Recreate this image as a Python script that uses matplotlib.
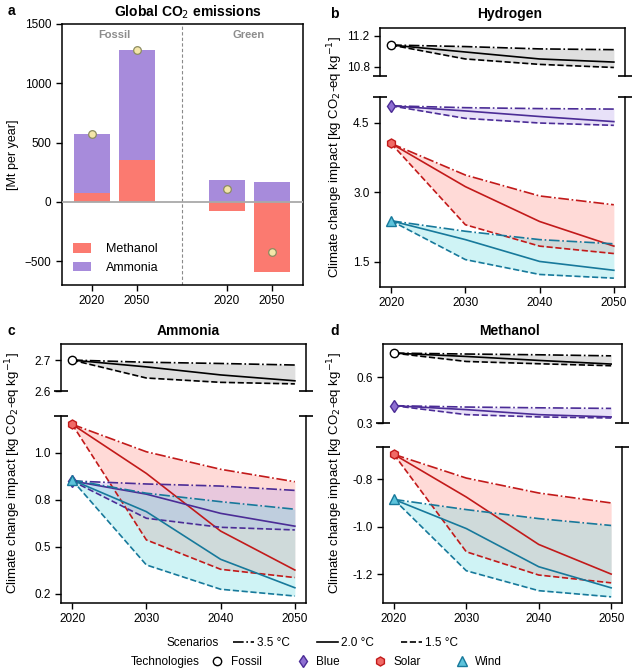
import matplotlib
matplotlib.use('Agg')
import matplotlib.pyplot as plt
from matplotlib.lines import Line2D
from matplotlib.patches import Patch
from matplotlib.ticker import FormatStrFormatter
import numpy as np

plt.rcParams['font.family'] = ['Liberation Sans', 'DejaVu Sans']
plt.rcParams['font.size'] = 9
plt.rcParams['axes.linewidth'] = 1.1
plt.rcParams['xtick.major.width'] = 1.0
plt.rcParams['ytick.major.width'] = 1.0
plt.rcParams['xtick.major.size'] = 4
plt.rcParams['ytick.major.size'] = 4
plt.rcParams['xtick.labelsize'] = 8.5
plt.rcParams['ytick.labelsize'] = 8.5

# ---------------- data ----------------
# Panel a
bar_groups = ['Fossil', 'Green']
bar_years = ['2020', '2050', '2020', '2050']
methanol_co2 = [75, 350, -75, -590]
ammonia_co2 = [500, 930, 185, 165]

years = [2020, 2030, 2040, 2050]
scenarios = ['3.5 °C', '2.0 °C', '1.5 °C']
technologies = ['Fossil', 'Blue', 'Solar', 'Wind']

# Hydrogen
h2_fossil_35 = [11.08, 11.06, 11.03, 11.02]
h2_fossil_20 = [11.08, 10.99, 10.90, 10.86]
h2_fossil_15 = [11.08, 10.90, 10.83, 10.79]
h2_blue_35 = [4.86, 4.82, 4.80, 4.79]
h2_blue_20 = [4.86, 4.75, 4.63, 4.52]
h2_blue_15 = [4.86, 4.59, 4.49, 4.44]
h2_solar_35 = [4.05, 3.37, 2.92, 2.73]
h2_solar_20 = [4.05, 3.12, 2.37, 1.84]
h2_solar_15 = [4.05, 2.30, 1.84, 1.68]
h2_wind_35 = [2.385, 2.16, 1.98, 1.89]
h2_wind_20 = [2.385, 1.98, 1.51, 1.32]
h2_wind_15 = [2.385, 1.55, 1.23, 1.15]

# Ammonia
nh3_fossil_35 = [2.700, 2.693, 2.689, 2.684]
nh3_fossil_20 = [2.700, 2.678, 2.652, 2.633]
nh3_fossil_15 = [2.700, 2.642, 2.628, 2.623]
nh3_blue_35 = [0.85, 0.834, 0.823, 0.80]
nh3_blue_20 = [0.85, 0.78, 0.678, 0.61]
nh3_blue_15 = [0.85, 0.652, 0.604, 0.59]
nh3_solar_35 = [1.151, 1.005, 0.912, 0.846]
nh3_solar_20 = [1.151, 0.89, 0.584, 0.377]
nh3_solar_15 = [1.151, 0.537, 0.381, 0.337]
nh3_wind_35 = [0.855, 0.785, 0.74, 0.70]
nh3_wind_20 = [0.855, 0.687, 0.434, 0.283]
nh3_wind_15 = [0.855, 0.404, 0.275, 0.239]

# Methanol
meoh_fossil_35 = [0.76, 0.754, 0.749, 0.742]
meoh_fossil_20 = [0.76, 0.738, 0.712, 0.688]
meoh_fossil_15 = [0.76, 0.705, 0.690, 0.677]
meoh_blue_35 = [0.414, 0.405, 0.400, 0.396]
meoh_blue_20 = [0.414, 0.388, 0.355, 0.340]
meoh_blue_15 = [0.414, 0.355, 0.340, 0.333]
meoh_solar_35 = [-0.695, -0.795, -0.858, -0.90]
meoh_solar_20 = [-0.695, -0.875, -1.075, -1.20]
meoh_solar_15 = [-0.695, -1.106, -1.204, -1.237]
meoh_wind_35 = [-0.885, -0.928, -0.966, -0.995]
meoh_wind_20 = [-0.885, -1.008, -1.169, -1.258]
meoh_wind_15 = [-0.885, -1.186, -1.270, -1.296]

# ---------------- styles ----------------
methanol_color = '#FB7A70'
ammonia_color = '#A78BDB'
styles = {
    'Fossil': dict(line='black', fill='#9c9c9c', mface='white', medge='black', marker='o', ms=6),
    'Blue': dict(line='#4B2C96', fill='#B9A4EA', mface='#8E6FD2', medge='#4B2C96', marker='d', ms=6),
    'Solar': dict(line='#C21A1A', fill='#FF8D83', mface='#F06A66', medge='#C21A1A', marker='h', ms=6.5),
    'Wind': dict(line='#17799B', fill='#6ADCE2', mface='#5CC3DB', medge='#17799B', marker='^', ms=6.5),
}
ls_map = {'3.5 °C': '-.', '2.0 °C': '-', '1.5 °C': '--'}

W, H = 634, 671
fig = plt.figure(figsize=(W / 100, H / 100), dpi=100)


def rect(l, t, r, b):
    return [l / W, 1 - b / H, (r - l) / W, (b - t) / H]


# ---------------- panel a ----------------
ax = fig.add_axes(rect(62, 24, 303, 285))
xpos = np.array([0, 1, 3, 4])
meth = np.array(methanol_co2)
amm = np.array(ammonia_co2)
ax.bar(xpos, meth, width=0.8, color=methanol_color, label='Methanol', zorder=2)
ax.bar(xpos, amm, width=0.8, bottom=np.maximum(meth, 0), color=ammonia_color,
       label='Ammonia', zorder=2)
ax.axhline(0, color='#a9a9a9', lw=1.3, zorder=3)
ax.axvline(2, color='#8a8a8a', lw=0.8, ls=(0, (3, 2)), zorder=1)
ax.plot(xpos, meth + amm, 'o', ms=5.5, mfc='#F4E6A9', mec='#8C8C60', mew=0.9, zorder=4)
ax.set_xlim(-0.66, 4.7)
ax.set_ylim(-700, 1500)
ax.set_yticks([-500, 0, 500, 1000, 1500])
ax.set_xticks(xpos)
ax.set_xticklabels(bar_years)
ax.text(0.5, 1405, bar_groups[0], ha='center', va='center', color='#8c8c8c',
        fontweight='bold', fontsize=8)
ax.text(3.5, 1405, bar_groups[1], ha='center', va='center', color='#8c8c8c',
        fontweight='bold', fontsize=8)
ax.set_ylabel('[Mt per year]', fontsize=9, labelpad=4)
ax.legend(loc='lower left', frameon=False, fontsize=9, handlelength=1.45,
          handleheight=0.8, handletextpad=1.2, labelspacing=0.5)
fig.text(188 / W, 1 - 12 / H, 'Global CO$_2$ emissions', ha='center', va='center',
         fontsize=10, fontweight='bold')
fig.text(8 / W, 1 - 11 / H, 'a', ha='left', va='center', fontsize=10, fontweight='bold')


# ---------------- line panels ----------------
def draw_tech(axx, tech, s35, s20, s15):
    st = styles[tech]
    axx.fill_between(years, s35, s15, color=st['fill'], alpha=0.32, lw=0, zorder=1)
    for sc, vals in zip(scenarios, [s35, s20, s15]):
        axx.plot(years, vals, color=st['line'], ls=ls_map[sc], lw=1.2, zorder=3)
    axx.plot(years[0], s20[0], st['marker'], ms=st['ms'], mfc=st['mface'],
             mec=st['medge'], mew=1.0, zorder=5, clip_on=False)


def broken_pair(top_rect, bot_rect):
    at = fig.add_axes(rect(*top_rect))
    ab = fig.add_axes(rect(*bot_rect))
    at.spines['bottom'].set_visible(False)
    ab.spines['top'].set_visible(False)
    at.tick_params(bottom=False, labelbottom=False)
    for a in (at, ab):
        a.set_xlim(2018.5, 2051.5)
    ab.set_xticks(years)
    at.plot([0, 1], [0, 0], transform=at.transAxes, marker='_', ms=10, mew=1.2,
            color='k', ls='none', clip_on=False)
    ab.plot([0, 1], [1, 1], transform=ab.transAxes, marker='_', ms=10, mew=1.2,
            color='k', ls='none', clip_on=False)
    return at, ab


ylabel = 'Climate change impact [kg CO$_2$-eq kg$^{-1}$]'

# b Hydrogen
bt, bb = broken_pair((380, 28, 625, 76), (380, 97, 625, 287))
draw_tech(bt, 'Fossil', h2_fossil_35, h2_fossil_20, h2_fossil_15)
draw_tech(bb, 'Blue', h2_blue_35, h2_blue_20, h2_blue_15)
draw_tech(bb, 'Solar', h2_solar_35, h2_solar_20, h2_solar_15)
draw_tech(bb, 'Wind', h2_wind_35, h2_wind_20, h2_wind_15)
bt.set_ylim(10.68, 11.3)
bt.set_yticks([10.8, 11.2])
bb.set_ylim(0.96, 5.05)
bb.set_yticks([1.5, 3.0, 4.5])
bt.yaxis.set_major_formatter(FormatStrFormatter('%.1f'))
bb.yaxis.set_major_formatter(FormatStrFormatter('%.1f'))
fig.text(335 / W, 1 - 157 / H, ylabel, rotation=90, ha='center', va='center', fontsize=9.5)
fig.text(510 / W, 1 - 14 / H, 'Hydrogen', ha='center', va='center', fontsize=10, fontweight='bold')
fig.text(330 / W, 1 - 14 / H, 'b', ha='left', va='center', fontsize=10, fontweight='bold')

# c Ammonia
ct, cb = broken_pair((61, 344, 306, 391), (61, 416, 306, 603))
draw_tech(ct, 'Fossil', nh3_fossil_35, nh3_fossil_20, nh3_fossil_15)
draw_tech(cb, 'Solar', nh3_solar_35, nh3_solar_20, nh3_solar_15)
draw_tech(cb, 'Blue', nh3_blue_35, nh3_blue_20, nh3_blue_15)
draw_tech(cb, 'Wind', nh3_wind_35, nh3_wind_20, nh3_wind_15)
ct.set_ylim(2.6, 2.752)
ct.set_yticks([2.6, 2.7])
cb.set_ylim(0.202, 1.195)
cb.set_yticks([0.25, 0.5, 0.75, 1.0])
ct.yaxis.set_major_formatter(FormatStrFormatter('%.1f'))
cb.yaxis.set_major_formatter(FormatStrFormatter('%.1f'))
fig.text(13 / W, 1 - 473 / H, ylabel, rotation=90, ha='center', va='center', fontsize=9.5)
fig.text(188 / W, 1 - 331 / H, 'Ammonia', ha='center', va='center', fontsize=10, fontweight='bold')
fig.text(8 / W, 1 - 331 / H, 'c', ha='left', va='center', fontsize=10, fontweight='bold')

# d Methanol
dt, db = broken_pair((383, 344, 622, 423), (383, 447, 622, 603))
draw_tech(dt, 'Fossil', meoh_fossil_35, meoh_fossil_20, meoh_fossil_15)
draw_tech(dt, 'Blue', meoh_blue_35, meoh_blue_20, meoh_blue_15)
draw_tech(db, 'Solar', meoh_solar_35, meoh_solar_20, meoh_solar_15)
draw_tech(db, 'Wind', meoh_wind_35, meoh_wind_20, meoh_wind_15)
dt.set_ylim(0.3, 0.82)
dt.set_yticks([0.3, 0.6])
db.set_ylim(-1.322, -0.664)
db.set_yticks([-1.2, -1.0, -0.8])
dt.yaxis.set_major_formatter(FormatStrFormatter('%.1f'))
db.yaxis.set_major_formatter(FormatStrFormatter('%.1f'))
fig.text(335 / W, 1 - 473 / H, ylabel, rotation=90, ha='center', va='center', fontsize=9.5)
fig.text(509 / W, 1 - 331 / H, 'Methanol', ha='center', va='center', fontsize=10, fontweight='bold')
fig.text(330 / W, 1 - 331 / H, 'd', ha='left', va='center', fontsize=10, fontweight='bold')

# ---------------- bottom legends ----------------
y1 = 1 - 642.7 / H
y2 = 1 - 661.7 / H
fig.text(219 / W, y1, 'Scenarios', ha='right', va='center', fontsize=8.5)
sc_handles = [Line2D([], [], color='black', ls=ls_map[s], lw=1.2) for s in scenarios]
fig.legend(sc_handles, scenarios, loc='center left', bbox_to_anchor=(233 / W, y1),
           ncol=3, frameon=False, fontsize=8.5, handlelength=1.75, handletextpad=0.25,
           columnspacing=2.35, borderpad=0, borderaxespad=0)
fig.text(200 / W, y2, 'Technologies', ha='right', va='center', fontsize=8.5)
tech_handles = [Line2D([], [], ls='none', marker=styles[t]['marker'], ms=styles[t]['ms'],
                       mfc=styles[t]['mface'], mec=styles[t]['medge'], mew=1.0)
                for t in technologies]
fig.legend(tech_handles, technologies, loc='center left', bbox_to_anchor=(207 / W, y2),
           ncol=4, frameon=False, fontsize=8.5, handlelength=1.75, handletextpad=0.25,
           columnspacing=2.6, borderpad=0, borderaxespad=0)

fig.savefig('out.png', dpi=100)
